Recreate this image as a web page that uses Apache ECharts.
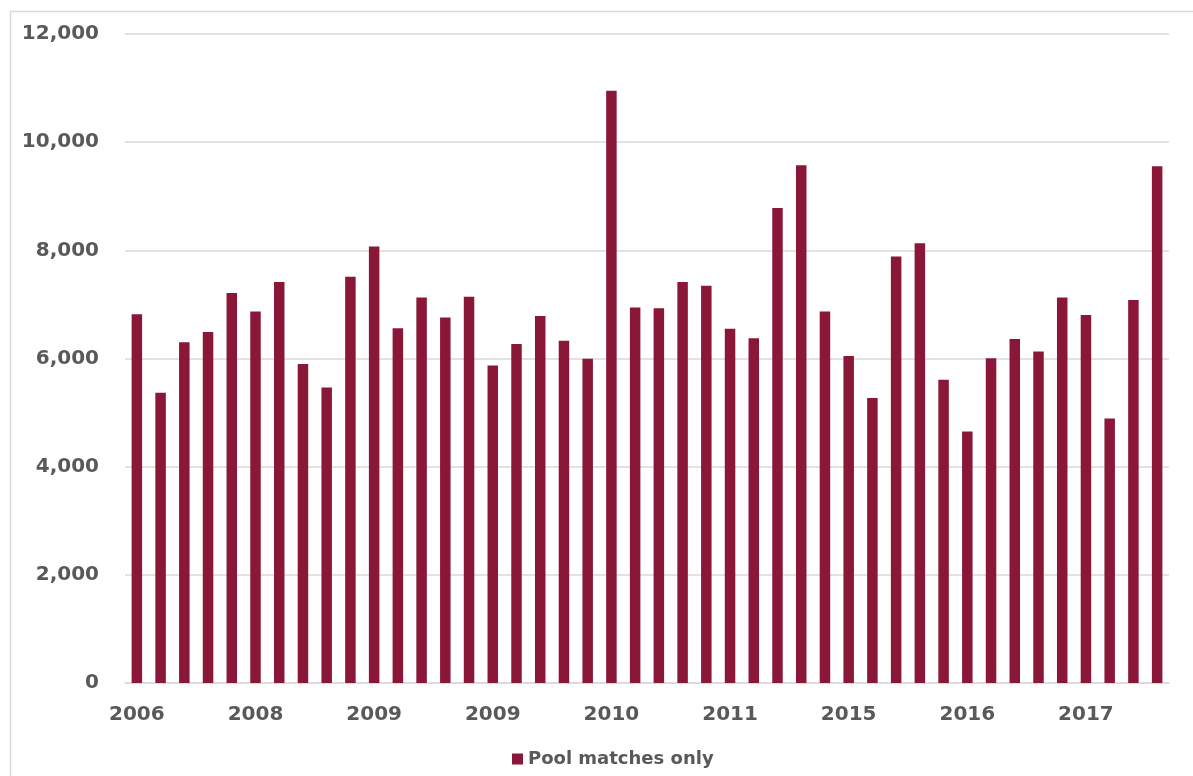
<!DOCTYPE html>
<html>
<head>
<meta charset="utf-8">
<title>Pool matches only</title>
<script src="https://cdn.jsdelivr.net/npm/echarts@6/dist/echarts.min.js"></script>
<style>
  html, body { margin: 0; padding: 0; background: #fff; }
  #chart { width: 1193px; height: 776px; }
</style>
</head>
<body>
<div id="chart"></div>
<script>
// one bar per period, labels shown on every fifth bar
const tickLabels = ['2006', '2008', '2009', '2009', '2010', '2011', '2015', '2016', '2017'];
const periods = [
    'p01', 'p02', 'p03', 'p04', 'p05', 'p06', 'p07', 'p08', 'p09', 'p10', 'p11',
    'p12', 'p13', 'p14', 'p15', 'p16', 'p17', 'p18', 'p19', 'p20', 'p21', 'p22',
    'p23', 'p24', 'p25', 'p26', 'p27', 'p28', 'p29', 'p30', 'p31', 'p32', 'p33',
    'p34', 'p35', 'p36', 'p37', 'p38', 'p39', 'p40', 'p41', 'p42', 'p43', 'p44'
];
const poolMatches = [
    6820, 5365, 6300, 6490, 7210, 6870, 7415, 5900, 5465, 7510, 8070,
    6560, 7130, 6760, 7140, 5870, 6270, 6785, 6330, 5995, 10950, 6945,
    6930, 7415, 7345, 6550, 6375, 8785, 9575, 6870, 6045, 5270, 7885,
    8130, 5605, 4650, 6005, 6360, 6130, 7130, 6805, 4890, 7080, 9555
];

const textColor = '#595959';
const barColor = '#8b1738';
const labelFont = 'DejaVu Sans';

const chart = echarts.init(document.getElementById('chart'));

chart.setOption({
    animation: false,
    graphic: [{
        type: 'rect',
        shape: { x: 10.5, y: 11.5, width: 1300, height: 900 },
        style: { fill: 'none', stroke: '#d9d9d9', lineWidth: 1.5 },
        silent: true
    }],
    grid: {
        left: 125,
        right: 24,
        top: 34,
        bottom: 93
    },
    legend: {
        data: ['Pool matches only'],
        left: 507,
        top: 745,
        itemWidth: 11,
        itemHeight: 11,
        itemGap: 10,
        icon: 'rect',
        textStyle: {
            color: textColor,
            fontFamily: labelFont,
            fontWeight: 'bold',
            fontSize: 18
        }
    },
    xAxis: {
        type: 'category',
        data: periods,
        axisLine: { lineStyle: { color: '#d9d9d9', width: 1.5 } },
        axisTick: { show: false },
        axisLabel: {
            interval: 4,
            margin: 22,
            color: textColor,
            fontFamily: labelFont,
            fontWeight: 'bold',
            fontSize: 20,
            formatter: (value, index) => tickLabels[index / 5] || ''
        }
    },
    yAxis: {
        type: 'value',
        min: 0,
        max: 12000,
        interval: 2000,
        axisLine: { show: false },
        axisTick: { show: false },
        splitLine: { lineStyle: { color: '#d9d9d9', width: 1.5 } },
        axisLabel: {
            margin: 26,
            color: textColor,
            fontFamily: labelFont,
            fontWeight: 'bold',
            fontSize: 20,
            formatter: v => v.toLocaleString('en-US')
        }
    },
    series: [{
        name: 'Pool matches only',
        type: 'bar',
        data: poolMatches,
        barWidth: 10.5,
        itemStyle: { color: barColor }
    }]
});
</script>
</body>
</html>
